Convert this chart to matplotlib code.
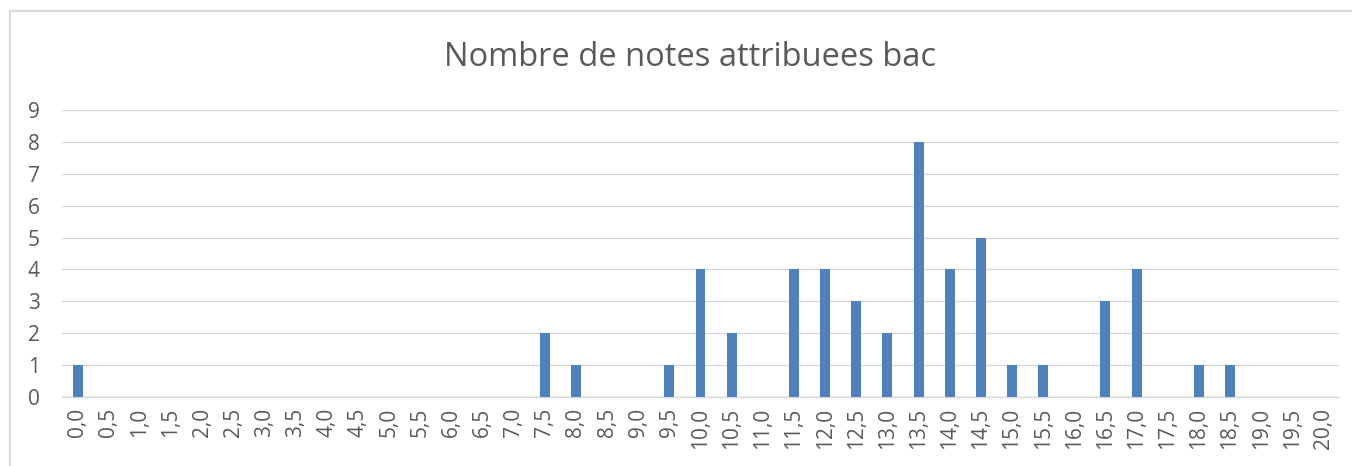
import matplotlib
matplotlib.use("Agg")
import matplotlib.pyplot as plt
from matplotlib.lines import Line2D

categories = [f"{i/2:.1f}".replace(".", ",") for i in range(41)]
counts = {"0,0": 1, "7,5": 2, "8,0": 1, "9,5": 1, "10,0": 4, "10,5": 2,
          "11,5": 4, "12,0": 4, "12,5": 3, "13,0": 2, "13,5": 8, "14,0": 4,
          "14,5": 5, "15,0": 1, "15,5": 1, "16,5": 3, "17,0": 4, "18,0": 1,
          "18,5": 1}
values = [counts.get(c, 0) for c in categories]
title = "Nombre de notes attribuees bac"
yticks = list(range(10))

plt.rcParams['font.family'] = ['Open Sans', 'DejaVu Sans']
W, H = 1352, 466
fig = plt.figure(figsize=(W/100, H/100), dpi=100)
ax = fig.add_axes([62/W, 1-397/H, (1339-62)/W, (397-110)/H])

x = list(range(len(categories)))
ax.bar(x, values, width=0.32, color="#4f81bd", zorder=3)
ax.set_xlim(-0.5, len(categories)-0.5)
ax.set_ylim(0, 9)
ax.set_yticks(yticks)
ax.set_xticks(x)
ax.set_xticklabels(categories, rotation=90, va="top", ha="center")
ax.grid(axis="y", color="#d9d9d9", linewidth=1.0, zorder=0)
for s in ["top", "right", "left"]:
    ax.spines[s].set_visible(False)
ax.spines["bottom"].set_color("#d9d9d9")
ax.spines["bottom"].set_linewidth(1.0)
ax.tick_params(axis="both", length=0, labelsize=15, colors="#595959")
ax.tick_params(axis="y", pad=16)
ax.tick_params(axis="x", pad=8)

fig.text(690/W, 1-58/H, title, ha="center", va="center", fontsize=23.5, color="#595959")

fig.add_artist(Line2D([10/W, 10/W], [0, 1-11/H], color="#d9d9d9", lw=1.5, transform=fig.transFigure))
fig.add_artist(Line2D([10/W, 1], [1-11/H, 1-11/H], color="#d9d9d9", lw=1.5, transform=fig.transFigure))

fig.savefig("out.png", dpi=100, facecolor="white")
